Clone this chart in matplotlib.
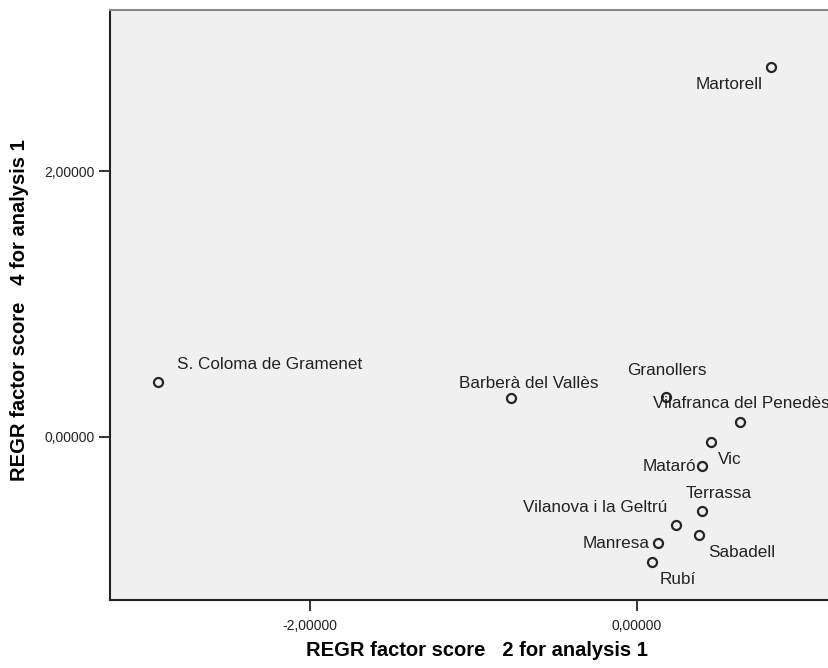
import matplotlib
matplotlib.use('Agg')
import matplotlib.pyplot as plt

plt.rcParams['font.family'] = ['Liberation Sans', 'DejaVu Sans']

# Puntuaciones factoriales por municipio
municipis = ['Martorell', 'S. Coloma de Gramenet', 'Barberà del Vallès', 'Granollers',
             'Vilafranca del Penedès', 'Vic', 'Mataró', 'Terrassa',
             'Vilanova i la Geltrú', 'Sabadell', 'Manresa', 'Rubí']
factor2 = [0.82, -2.93, -0.77, 0.18, 0.63, 0.45, 0.40, 0.40, 0.24, 0.38, 0.13, 0.09]
factor4 = [2.78, 0.41, 0.29, 0.30, 0.11, -0.04, -0.22, -0.56, -0.66, -0.74, -0.80, -0.94]

# Posicion de cada etiqueta respecto al punto (pixeles) y alineacion
etiquetas = {
    'Martorell': (-8, -17, 'right'),
    'S. Coloma de Gramenet': (19, 18, 'left'),
    'Barberà del Vallès': (-52, 15, 'left'),
    'Granollers': (0, 27, 'center'),
    'Vilafranca del Penedès': (-87, 19, 'left'),
    'Vic': (7, -17, 'left'),
    'Mataró': (-6, 0, 'right'),
    'Terrassa': (-17, 18, 'left'),
    'Vilanova i la Geltrú': (-9, 17, 'right'),
    'Sabadell': (9, -17, 'left'),
    'Manresa': (-9, 0, 'right'),
    'Rubí': (8, -18, 'left'),
}

fig = plt.figure(figsize=(8.29, 6.68), dpi=100)
ax = fig.add_axes([110 / 829, 68 / 668, 719 / 829, 590 / 668])
ax.set_facecolor('#f0f0f0')

ax.plot(factor2, factor4, 'o', markersize=6.5, markerfacecolor='none',
        markeredgecolor='#262626', markeredgewidth=1.6, clip_on=False)

for nom, x, y in zip(municipis, factor2, factor4):
    dx, dy, ha = etiquetas[nom]
    ax.annotate(nom, (x, y), xytext=(dx, dy), textcoords='offset pixels',
                ha=ha, va='center', fontsize=12.3, color='#222222')

ax.set_xlim(-3.223, 1.174)
ax.set_ylim(-1.226, 3.211)
ax.set_xticks([-2, 0])
ax.set_xticklabels(['-2,00000', '0,00000'])
ax.set_yticks([0, 2])
ax.set_yticklabels(['0,00000', '2,00000'])
ax.tick_params(direction='out', length=8, width=1.3, color='#222222',
               labelsize=10, labelcolor='#222222')
ax.tick_params(axis='x', pad=6)
ax.tick_params(axis='y', pad=3)

ax.spines['right'].set_visible(False)
ax.spines['top'].set_color('#888888')
ax.spines['top'].set_linewidth(1.5)
for s in ['left', 'bottom']:
    ax.spines[s].set_color('#222222')
    ax.spines[s].set_linewidth(1.5)

ax.set_xlabel('REGR factor score   2 for analysis 1', fontsize=14.5, fontweight='bold', va='center')
ax.set_ylabel('REGR factor score   4 for analysis 1', fontsize=14.5, fontweight='bold', va='center')
ax.xaxis.set_label_coords(0.51, -50 / 590)
ax.yaxis.set_label_coords(-90 / 719, 0.4915)

fig.savefig('out.png', dpi=100)
